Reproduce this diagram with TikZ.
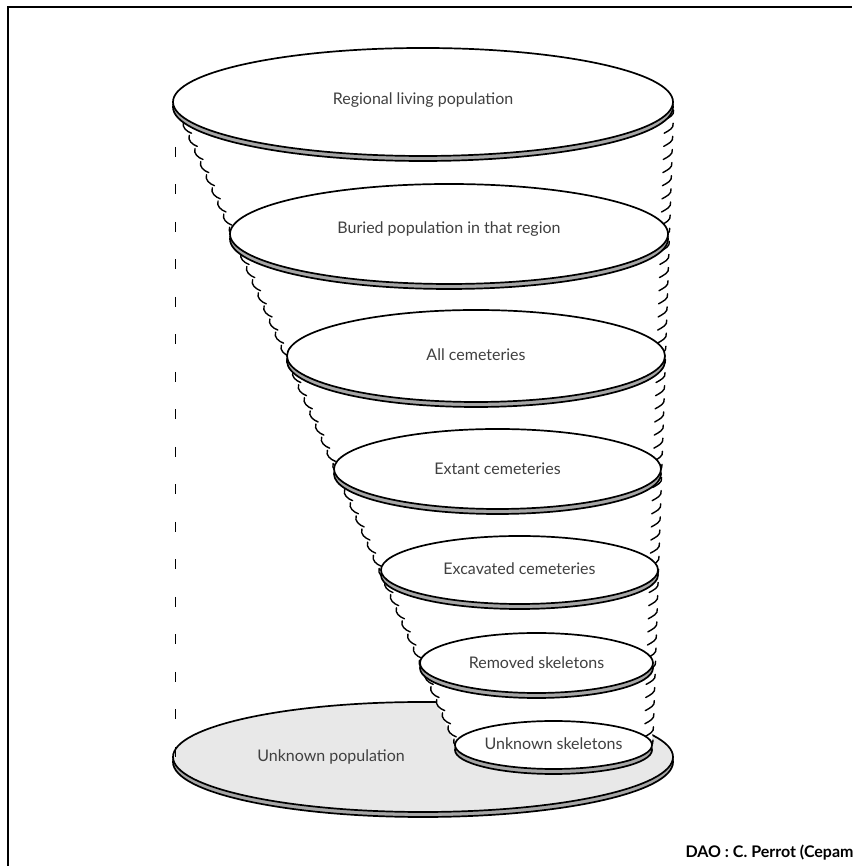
\documentclass[tikz,border=0pt]{standalone}
\usepackage{fontspec}
\setmainfont{Lato}
\usetikzlibrary{calc}
\tikzset{
  rim/.style={draw=black,fill=gray!70,line width=1.7pt},
  disc/.style={draw=black,fill=white,line width=1.7pt},
  twist/.style={line width=1.4pt,line cap=round},
  discname/.style={text=black!75,font=\fontsize{16}{19}\selectfont}
}
\begin{document}
\begin{tikzpicture}[x=1pt,y=1pt]
\useasboundingbox (0,0) rectangle (852,866);
%frame
\draw[line width=1.6pt] (8,0)--(8,859)--(852,859);
%unknown population
\draw[rim] (423,104) ellipse (250 and 55);
\draw[disc,fill=gray!18] (423,109) ellipse (250 and 55);
%dashed side
\draw[line width=1pt,dash pattern=on 10pt off 27.5pt] (175,719)--(175,109);
%cone
\coordinate (ltop) at (173,764);
\coordinate (lbot) at (455,121);
\coordinate (rtop) at (673,764);
\coordinate (rbot) at (652,121);
\fill[white] (ltop)--(rtop)--(rbot)--(lbot)--cycle;
\foreach \i in {1,...,49}
  \draw[twist] ($(ltop)!\i/49!(lbot)$) ++(-1,6) to[out=-110,in=160] ++(8,-11);
\foreach \i in {1,...,49}
  \draw[twist] ($(rtop)!\i/49!(rbot)$) ++(1,5) to[out=-80,in=30] ++(-9,-10);
%discs
\draw[rim] (553.5,116) ellipse (98.5 and 24);
\draw[disc] (553.5,121) ellipse (98.5 and 24);
\draw[rim] (536.5,198) ellipse (116.5 and 30);
\draw[disc] (536.5,203) ellipse (116.5 and 30);
\draw[rim] (519.5,291) ellipse (138.5 and 34);
\draw[disc] (519.5,296) ellipse (138.5 and 34);
\draw[rim] (497.5,392) ellipse (163.5 and 40);
\draw[disc] (497.5,397) ellipse (163.5 and 40);
\draw[rim] (476,505) ellipse (189 and 46);
\draw[disc] (476,510) ellipse (189 and 46);
\draw[rim] (449,627) ellipse (219 and 50);
\draw[disc] (449,632) ellipse (219 and 50);
\draw[rim] (423,759) ellipse (250 and 54);
\draw[disc] (423,764) ellipse (250 and 54);
%labels
\node[discname] (regional) at (423,766) {Regional living population};
\node[discname] (buried) at (449,637) {Buried population in that region};
\node[discname] (allcem) at (476,511) {All cemeteries};
\node[discname] (extant) at (497.5,397) {Extant cemeteries};
\node[discname] (excav) at (519.5,297) {Excavated cemeteries};
\node[discname] (removed) at (536.5,203) {Removed skeletons};
\node[discname] (unkskel) at (553.5,122) {Unknown skeletons};
\node[discname] (unkpop) at (331,109) {Unknown population};
\node[anchor=base west,font=\fontsize{16}{18}\selectfont\bfseries] (credit) at (682,9) {DAO : C. Perrot (Cepam};
\end{tikzpicture}
\end{document}
